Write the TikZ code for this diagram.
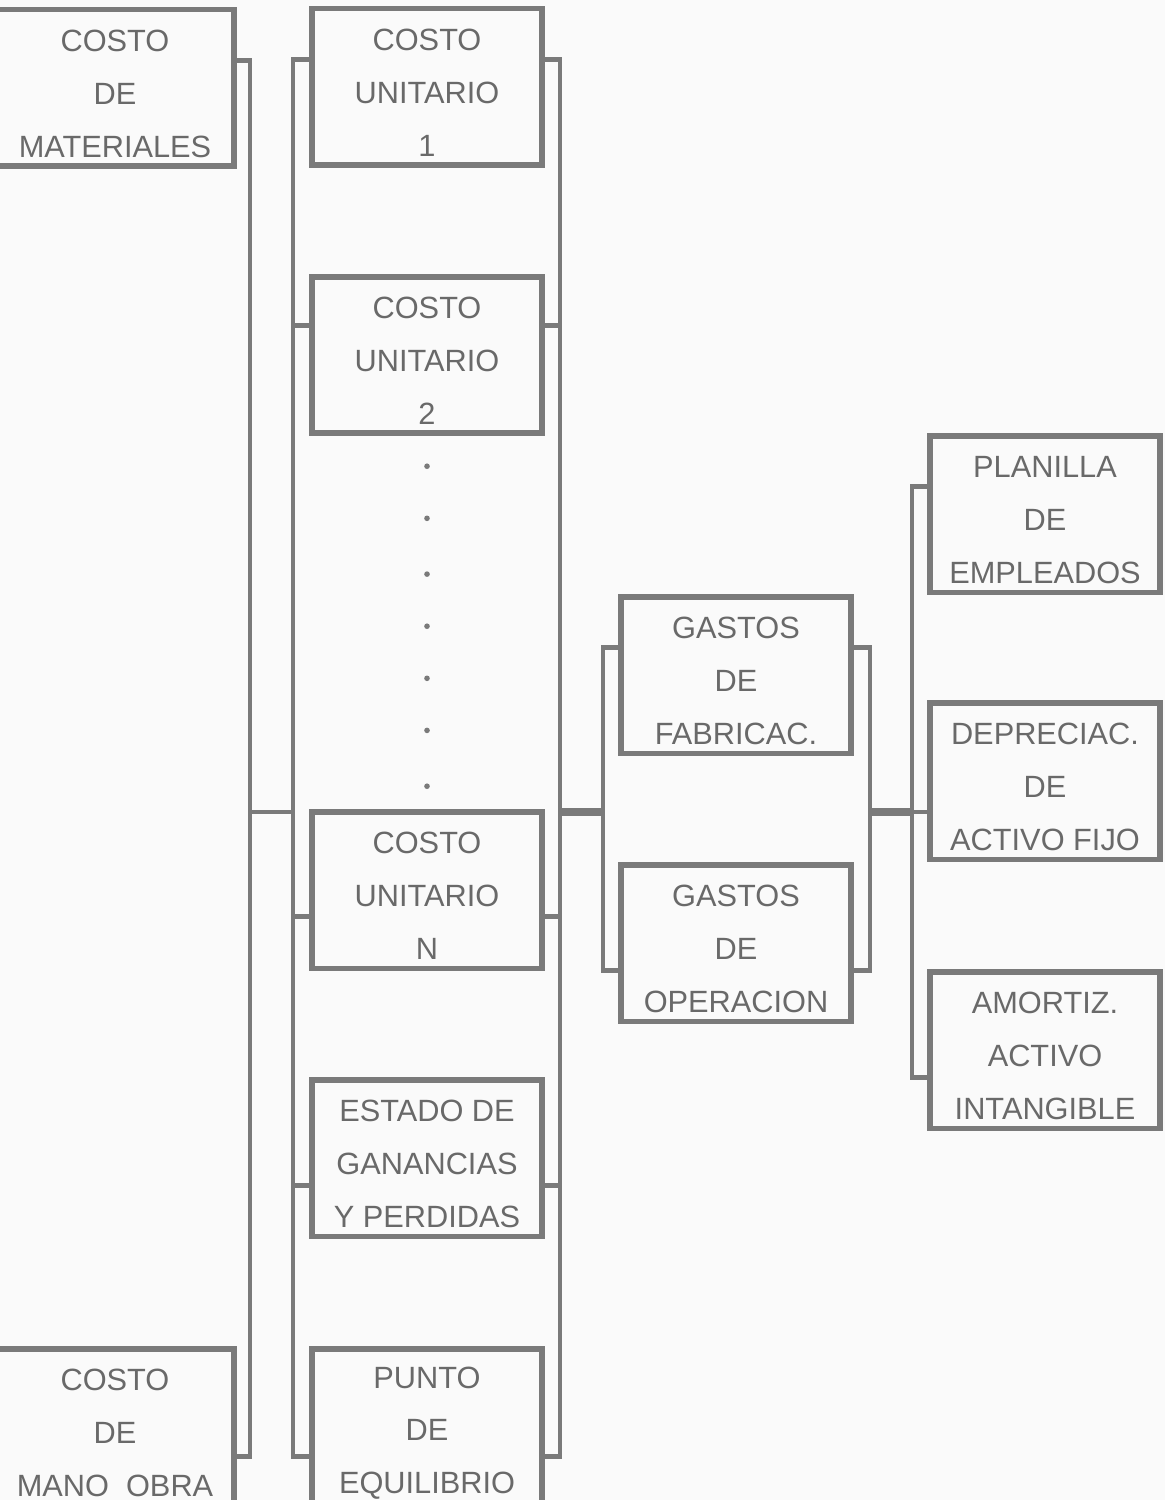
\documentclass[tikz,border=0pt]{standalone}
\usepackage{fontspec}
\setmainfont{Liberation Sans}
\usetikzlibrary{calc}
\definecolor{linea}{RGB}{122,122,122}
\definecolor{texto}{RGB}{105,105,105}
\newcommand{\alto}{\rule{0pt}{19pt}}
\tikzset{
    caja/.style={draw=linea, line width=3.4pt, minimum width=4.6cm, minimum height=3.14cm,
        inner sep=0pt, align=center, text=texto,
        font={\fontsize{17.5}{30}\selectfont}},
    cable/.style={draw=linea, line width=2.8pt},
    enlace/.style={cable, line width=4pt}
}
\begin{document}
\begin{tikzpicture}[x=0.02cm, y=-0.02cm]
\fill[black!2] (0,0) rectangle (1165,1500);
\useasboundingbox (0,0) rectangle (1165,1500);

\node[caja, minimum width=4.76cm] (cm) at (115,88) {\alto COSTO\\DE\\MATERIALES};
\node[caja, minimum width=4.76cm] (mo) at (115,1427) {\alto COSTO\\DE\\MANO~ OBRA};

\node[caja] (cu1) at (427,87) {\alto COSTO\\UNITARIO\\1};
\node[caja] (cu2) at (427,355) {\alto COSTO\\UNITARIO\\2};
\node[caja] (cun) at (427,890) {\alto COSTO\\UNITARIO\\N};
\node[caja] (egp) at (427,1158) {\alto ESTADO DE\\GANANCIAS\\Y PERDIDAS};
\node[caja] (pe) at (427,1427) {\alto PUNTO\\DE\\EQUILIBRIO};

\node[caja] (gf) at (736,675) {\alto GASTOS\\DE\\FABRICAC.};
\node[caja] (go) at (736,943) {\alto GASTOS\\DE\\OPERACION};

\node[caja] (pl) at (1045,514) {\alto PLANILLA\\DE\\EMPLEADOS};
\node[caja] (da) at (1045,781) {\alto DEPRECIAC.\\DE\\ACTIVO FIJO};
\node[caja] (ai) at (1045,1050) {\alto AMORTIZ.\\ACTIVO\\INTANGIBLE};

% puntos de enganche
\foreach \n/\f in {cm/.33, mo/.68, cu1/.33, cu2/.32, cun/.66, egp/.67, pe/.68,
                   gf/.33, go/.67, pl/.33, ai/.67} {
    \coordinate (\n-l) at ($(\n.north west)!\f!(\n.south west)$);
    \coordinate (\n-r) at ($(\n.north east)!\f!(\n.south east)$);
}

\coordinate (b1) at (250,812);
\coordinate (b2) at (293,812);
\coordinate (b3) at (560,812);
\coordinate (b4) at (603,812);
\coordinate (b5) at (870,812);
\coordinate (b6) at (912,812);

\draw[cable] (cm-r) -| (b1) |- (mo-r);
\draw[cable] (b1) -- (b2);

\draw[cable] (cu1-l) -| (b2) |- (pe-l);
\foreach \n in {cu2,cun,egp} \draw[cable] (\n-l) -- (b2 |- \n-l);
\draw[cable] (cu1-r) -| (b3) |- (pe-r);
\foreach \n in {cu2,cun,egp} \draw[cable] (\n-r) -- (b3 |- \n-r);
\draw[enlace] (b3) -- (b4);

\draw[cable] (gf-l) -| (b4) |- (go-l);
\draw[cable] (gf-r) -| (b5) |- (go-r);
\draw[enlace] (b5) -- (b6);

\draw[cable] (pl-l) -| (b6) |- (ai-l);
\draw[cable] (b6) -- (da.west |- b6);

% puntos suspensivos
\foreach \p in {.08,.22,.37,.51,.65,.79,.94}
    \fill[linea] ($(cu2.south)!\p!(cun.north)$) circle [radius=1.6pt];
\end{tikzpicture}
\end{document}
